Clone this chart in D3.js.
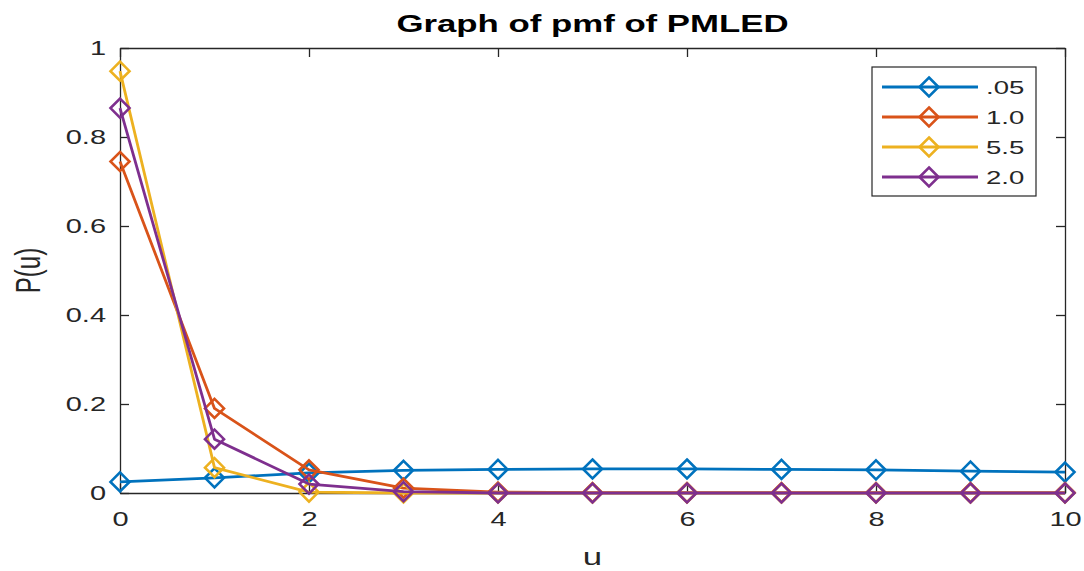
<!DOCTYPE html>
<html>
<head>
<meta charset="utf-8">
<script src="https://cdn.jsdelivr.net/npm/d3@7"></script>
<style>
  body { margin: 0; background: #fff; }
  svg { display: block; font-family: "Liberation Sans", Arial, sans-serif; }
</style>
</head>
<body>
<svg id="chart"></svg>
<script>
// values
var uValues = [0, 1, 2, 3, 4, 5, 6, 7, 8, 9, 10];
var seriesNames = [".05", "1.0", "5.5", "2.0"];
var seriesColors = ["#0072BD", "#D95319", "#EDB120", "#7E2F8E"];
var p005 = [0.025, 0.034, 0.045, 0.051, 0.053, 0.054, 0.054, 0.053, 0.052, 0.049, 0.047];
var p10  = [0.745, 0.19, 0.052, 0.011, 0.002, 0.001, 0.001, 0.001, 0.001, 0.001, 0.001];
var p55  = [0.948, 0.057, 0.002, 0.0, 0.0, 0.0, 0.0, 0.0, 0.0, 0.0, 0.0];
var p20  = [0.865, 0.121, 0.02, 0.003, 0.0, 0.0, 0.0, 0.0, 0.0, 0.0, 0.0];
var xTicks = [0, 2, 4, 6, 8, 10];
var yTicks = [0, 0.2, 0.4, 0.6, 0.8, 1];

var seriesValues = [p005, p10, p55, p20];

var W = 1084, H = 571;
var plotLeft = 120, plotRight = 1065, plotTop = 48, plotBottom = 493;
var tickLen = 9;
var textColor = "#262626";
var stretch = 1.45; // the picture is wider than the original figure, text looks stretched

var svg = d3.select("#chart").attr("width", W).attr("height", H);

var x = d3.scaleLinear().domain([0, 10]).range([plotLeft, plotRight]);
var y = d3.scaleLinear().domain([0, 1]).range([plotBottom, plotTop]);

// scale a text horizontally around its own anchor x
function stretchAt(ax) {
  return "translate(" + ax + ",0) scale(" + stretch + ",1) translate(" + (-ax) + ",0)";
}

// axes (MATLAB style: ticks inward, mirrored on top/right)
var axisLeft = d3.axisLeft(y).tickValues(yTicks).tickSizeInner(-tickLen).tickSizeOuter(0).tickPadding(14).tickFormat(d3.format("~g"));
var axisBottom = d3.axisBottom(x).tickValues(xTicks).tickSizeInner(-tickLen).tickSizeOuter(0).tickPadding(19);
var axisRight = d3.axisRight(y).tickValues(yTicks).tickSizeInner(-tickLen).tickSizeOuter(0).tickFormat("");
var axisTop = d3.axisTop(x).tickValues(xTicks).tickSizeInner(-tickLen).tickSizeOuter(0).tickFormat("");

function styleAxis(g) {
  g.selectAll("path, line").attr("stroke", textColor).attr("stroke-width", 1.3);
  g.selectAll("text")
    .attr("fill", textColor)
    .style("font-size", "20px")
    .style("font-family", "'Liberation Sans', Arial, sans-serif")
    .attr("transform", function () { return stretchAt(+d3.select(this).attr("x") || 0); });
}

svg.append("g").attr("transform", "translate(" + plotLeft + ",0)").call(axisLeft).call(styleAxis);
svg.append("g").attr("transform", "translate(0," + plotBottom + ")").call(axisBottom).call(styleAxis);
svg.append("g").attr("transform", "translate(" + plotRight + ",0)").call(axisRight).call(styleAxis);
svg.append("g").attr("transform", "translate(0," + plotTop + ")").call(axisTop).call(styleAxis);

// series
var line = d3.line().x(function (d, i) { return x(uValues[i]); }).y(function (d) { return y(d); });
var diamond = d3.symbol().type(d3.symbolDiamond2).size(230);

seriesValues.forEach(function (vals, s) {
  var g = svg.append("g");
  g.append("path")
    .attr("d", line(vals))
    .attr("fill", "none")
    .attr("stroke", seriesColors[s])
    .attr("stroke-width", 2.8)
    .attr("stroke-linejoin", "round");
  g.selectAll("path.mark")
    .data(vals)
    .enter()
    .append("path")
    .attr("class", "mark")
    .attr("d", diamond)
    .attr("transform", function (d, i) { return "translate(" + x(uValues[i]) + "," + y(d) + ")"; })
    .attr("fill", "none")
    .attr("stroke", seriesColors[s])
    .attr("stroke-width", 2.6);
});

// title and labels
var midX = (plotLeft + plotRight) / 2;
svg.append("text")
  .attr("x", midX).attr("y", 32)
  .attr("transform", stretchAt(midX))
  .attr("text-anchor", "middle")
  .style("font-size", "24px").style("font-weight", "bold")
  .attr("fill", "#000")
  .text("Graph of pmf of PMLED");

svg.append("text")
  .attr("x", midX).attr("y", 565)
  .attr("transform", stretchAt(midX))
  .attr("text-anchor", "middle")
  .style("font-size", "24px")
  .attr("fill", textColor)
  .text("u");

svg.append("text")
  .attr("transform", "translate(40," + ((plotTop + plotBottom) / 2) + ") scale(" + stretch + ",1) rotate(-90)")
  .attr("text-anchor", "middle")
  .style("font-size", "24px")
  .attr("fill", textColor)
  .text("P(u)");

// legend
var legend = svg.append("g").attr("transform", "translate(872,67)");
legend.append("rect")
  .attr("width", 164).attr("height", 129)
  .attr("fill", "#fff")
  .attr("stroke", textColor).attr("stroke-width", 1.2);

seriesNames.forEach(function (name, s) {
  var ly = 20 + s * 30;
  legend.append("line")
    .attr("x1", 10).attr("x2", 106).attr("y1", ly).attr("y2", ly)
    .attr("stroke", seriesColors[s]).attr("stroke-width", 2.8);
  legend.append("path")
    .attr("d", diamond)
    .attr("transform", "translate(57," + ly + ")")
    .attr("fill", "none")
    .attr("stroke", seriesColors[s]).attr("stroke-width", 2.6);
  legend.append("text")
    .attr("x", 114).attr("y", ly + 7)
    .attr("transform", stretchAt(114))
    .style("font-size", "19px")
    .attr("fill", textColor)
    .text(name);
});
</script>
</body>
</html>
